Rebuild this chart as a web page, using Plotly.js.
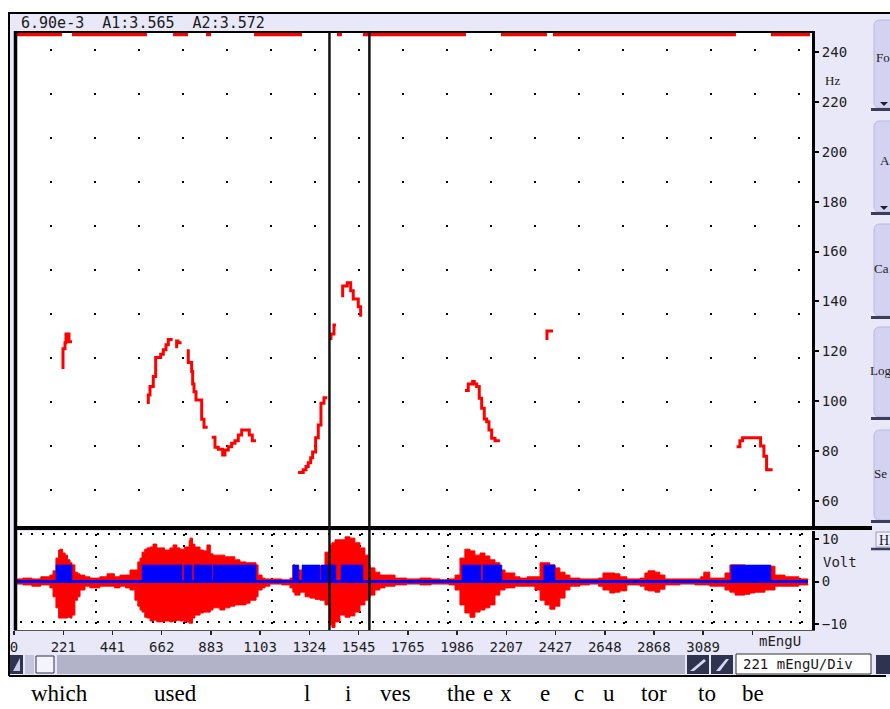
<!DOCTYPE html>
<html><head><meta charset="utf-8">
<script src="https://cdn.plot.ly/plotly-3.0.1.min.js"></script>
<style>html,body{margin:0;padding:0;background:#fff;overflow:hidden}#chart{width:890px;height:709px}</style>
</head><body><div id="chart"></div>
<script>
// ---------------- data ----------------
const xTickVals = [0,221,441,662,883,1103,1324,1545,1765,1986,2207,2427,2648,2868,3089,3310];
const xTickText = ['0','221','441','662','883','1103','1324','1545','1765','1986','2207','2427','2648','2868','3089',''];
const hzTickVals = [60,80,100,120,140,160,180,200,220,240];
const voltTickVals = [-10,0,10];

// pitch track (mEngU, Hz); null = gap
const pitchTime = [219.6,219.6,228.6,228.6,233,233,246.5,246.5,260,null,
 601.9,601.9,609.6,609.6,624.3,624.3,635.1,635.1,657.5,657.5,669.2,669.2,681.3,681.3,691.6,691.6,711.3,null,
 729,729,735,735,751,null,
 781.2,781.2,796.4,796.4,800.9,800.9,806.8,806.8,815.7,815.7,841.3,841.3,851.6,851.6,868.2,null,
 886.1,900.9,900.9,915.7,915.7,935.4,935.4,945.7,945.7,960.5,960.5,975.7,975.7,990.5,990.5,1005.3,1005.3,1020.6,1020.6,1054.6,1054.6,1068.1,1068.1,1084.6,null,
 1273,1296.6,1296.6,1308.7,1308.7,1319,1319,1329.8,1329.8,1338.7,1338.7,1352.2,1352.2,1363.9,1363.9,1376,1376,1389.4,1389.4,1404.2,null,
 1420.8,1420.8,1434.2,1434.2,1443.2,null,
 1473.2,1473.2,1493.9,1493.9,1509.1,1509.1,1520.7,1520.7,1543.2,1543.2,1553.9,1553.9,null,
 2021.4,2036.2,2036.2,2055.9,2055.9,2063.1,2063.1,2073.8,2073.8,2085.5,2085.5,2096.3,2096.3,2107.9,2107.9,2118.7,2118.7,2129,2129,2141.1,2141.1,2155.8,2155.8,2178,null,
 2389,2389,2416,null,
 3239,3253.8,3253.8,3265.9,3265.9,3346.6,3346.6,3361.4,3361.4,3373.5,3373.5,3400.4];
const pitchHz = [112.9,121.0,121.0,123.4,123.4,127.0,127.0,123.8,123.8,null,
 98.9,102.5,102.5,105.9,105.9,109.9,109.9,117.5,117.5,118.8,118.8,120.6,120.6,122.6,122.6,124.8,124.8,null,
 121.2,124.2,124.2,123.4,123.4,null,
 120.8,115.5,115.5,111.9,111.9,106.9,106.9,103.8,103.8,100.5,100.5,92.8,92.8,89.6,89.6,null,
 85.6,85.6,81.6,81.6,80.8,80.8,78.5,78.5,80.5,80.5,81.8,81.8,83.2,83.2,84.2,84.2,86.5,86.5,88.5,88.5,86.5,86.5,84.2,84.2,null,
 71.4,71.4,72.5,72.5,73.8,73.8,75.4,75.4,77.4,77.4,79.7,79.7,85.4,85.4,90.5,90.5,99.2,99.2,101.4,101.4,null,
 124.6,127,127,130.6,130.6,null,
 141.7,146.2,146.2,147.5,147.5,144.3,144.3,141.0,141.0,137.9,137.9,133.9,null,
 104.3,104.3,106.9,106.9,107.9,107.9,106.9,106.9,105.9,105.9,101.2,101.2,97.2,97.2,92.9,92.9,91.8,91.8,88.5,88.5,85.2,85.2,84.2,84.2,null,
 124.6,128.2,128.2,null,
 81.8,81.8,84.2,84.2,85.4,85.4,82.1,82.1,78.0,78.0,72.5,72.5];

// out-of-range (unvoiced) marks drawn at the top edge
const unvoicedStart = [0,260,713,861,1076,1448,1564,2183,2416,3393];
const unvoicedEnd   = [215,596,780,883,1291,1470,2026,2389,3236,3568];
const unvoicedLevel = 247;

// waveform envelope (mEngU, Volt)
const envTime = [0,40,80,120,161,175,188,200,206,218,229,240,251,260,273,285,296,318,340,385,
 417,450,475,500,520,529,542,555,565,574,586,596,610,623,640,654,675,699,713,730,
 744,765,785,789,800,811,834,850,865,880,892,923,945,968,990,1013,1040,1058,1085,1094,
 1112,1125,1147,1200,1237,1250,1259,1282,1305,1327,1350,1371,1394,1416,1425,1439,1461,1484,1506,1528,
 1551,1573,1587,1596,1618,1640,1663,1708,1760,1820,1870,1909,1950,1977,1999,2021,2044,2066,2089,2111,
 2133,2156,2178,2201,2245,2268,2300,2335,2358,2380,2402,2425,2447,2470,2492,2537,2580,2620,2640,2671,
 2693,2716,2747,2780,2806,2828,2842,2873,2895,2918,2985,3052,3078,3092,3119,3164,3187,3209,3232,3276,
 3299,3321,3344,3366,3388,3411,3456,3500,3518,3559];
const envTop = [0.6,0.8,0.6,1.1,1.5,2.5,5.5,7.4,7.6,6.7,6.2,5.1,4.4,3.9,2.2,1.8,1.5,1.1,0.8,1.1,
 1.8,1.1,1.5,1.5,2.7,2.7,2.7,4.6,5.5,6.9,7.6,7.9,8.1,8.8,7.9,7.9,7.4,7.9,8.6,7.9,
 7.6,8.1,9.6,10.2,8.8,8.1,7.4,7.2,8.6,6.5,6.2,6.2,5.8,5.8,5.1,4.6,4.4,4.4,3.9,1.5,
 0.8,0.6,0.6,0.4,0.8,3.9,2.7,2.7,3.2,3.2,3.6,3.6,6.9,8.6,9.1,9.8,9.8,10.5,10.2,9.1,
 7.9,6.2,3.9,3.2,2.2,1.5,1.5,0.8,0.6,0.8,0.6,0.4,0.6,1.5,5.5,7.6,7.2,6.2,6.7,6.0,
 5.1,4.4,2.7,2.0,1.1,0.8,1.1,1.1,4.4,4.4,3.9,3.2,2.2,1.5,0.8,0.6,0.6,0.8,2.0,2.0,
 1.8,1.1,0.6,0.6,0.8,2.0,2.5,2.2,1.5,0.6,0.6,0.6,1.1,2.2,0.8,0.8,2.0,3.9,3.9,3.6,
 3.2,3.6,3.6,3.6,3.6,1.5,1.1,1.1,0.6,0.4];
const envBottom = [-0.6,-0.8,-1.1,-0.8,-1.5,-3.6,-6.2,-8.6,-8.6,-8.6,-8.6,-8.4,-8.6,-7.9,-4.4,-3.6,-2.0,-1.1,-1.5,-1.1,
 -1.1,-1.5,-1.1,-1.5,-2.0,-2.0,-4.4,-5.8,-6.7,-7.2,-8.4,-8.6,-9.3,-9.1,-9.5,-9.5,-9.3,-9.5,-9.3,-9.1,
 -9.3,-9.5,-9.8,-9.8,-8.6,-7.9,-7.4,-7.2,-7.2,-6.7,-6.2,-6.7,-6.2,-5.8,-5.5,-5.5,-5.1,-4.4,-3.6,-2.0,
 -1.5,-1.1,-0.6,-0.8,-1.5,-2.5,-3.2,-2.5,-3.6,-3.9,-4.2,-4.4,-5.5,-10.2,-10.8,-9.5,-7.9,-8.4,-8.1,-7.2,
 -5.5,-4.4,-3.6,-3.2,-2.0,-1.5,-1.1,-0.8,-0.6,-0.8,-0.6,-0.6,-0.8,-2.0,-5.5,-7.4,-8.4,-7.2,-6.7,-6.2,
 -5.5,-3.2,-2.0,-1.5,-1.1,-1.1,-1.1,-2.0,-4.4,-5.5,-6.5,-5.8,-3.9,-2.0,-1.1,-0.8,-0.6,-1.1,-2.0,-2.7,
 -2.5,-2.2,-0.8,-0.8,-1.1,-2.0,-2.2,-2.5,-1.8,-0.8,-0.6,-0.8,-0.8,-0.8,-1.1,-1.1,-2.0,-2.5,-3.2,-3.0,
 -2.7,-2.5,-2.5,-2.0,-2.0,-1.1,-1.1,-1.1,-0.8,-0.6];

// voiced segments (blue blocks)
const voicedStart = [188,574,762,807,892,1250,1291,1376,1466,2008,2102,2375,3214];
const voicedEnd   = [260,753,798,887,1085,1277,1371,1443,1564,2093,2187,2425,3393];
const voicedLevel = 3.9;

const cursorTime = [1414,1593];
const headerText = '6.90e-3\u00a0\u00a0A1:3.565\u00a0\u00a0A2:3.572';
const words = ['which','used','l','i','ves','the','e','x','e','c','u','tor','to','be'];

// ---------------- layout helpers ----------------
const W = 890, H = 709;
const px = x => x / W, py = y => 1 - y / H;
const wordX = [59,175,307,348,395,461,488,506,545,579,609,654,707,753];
const MONO = 'DejaVu Sans Mono', SERIF = 'Liberation Serif';
const LAV = '#e8e8f8';

function rect(x0, y0, x1, y1, fill, lineColor, layer) {
  return {type:'rect', xref:'paper', yref:'paper', x0:px(x0), x1:px(x1), y0:py(y1), y1:py(y0),
    fillcolor: fill, line:{width: lineColor ? 1 : 0, color: lineColor || fill}, layer: layer || 'above'};
}
function seg(x0, y0, x1, y1, w, color, dash, layer) {
  return {type:'line', xref:'paper', yref:'paper', x0:px(x0), x1:px(x1), y0:py(y0), y1:py(y1),
    line:{width:w, color:color, dash: dash || 'solid'}, layer: layer || 'above'};
}
function pathShape(pts, fill, lineColor) {
  let d = '';
  pts.forEach((p, i) => {
    if (p[0] === 'Q') d += ' Q' + px(p[1]) + ',' + py(p[2]) + ' ' + px(p[3]) + ',' + py(p[4]);
    else d += (i === 0 ? 'M' : ' L') + px(p[0]) + ',' + py(p[1]);
  });
  d += ' Z';
  return {type:'path', xref:'paper', yref:'paper', path:d, fillcolor:fill,
    line:{width: lineColor ? 1 : 0, color: lineColor || fill}, layer:'above'};
}
function roundBtn(t, b) {
  const l = 874, r = 893, k = 6;
  return pathShape([[l, t + k], ['Q', l, t, l + k, t], [r, t], [r, b], [l + k, b], ['Q', l, b, l, b - k]], '#d3d3f1', '#b8b8dc');
}
function label(text, x, y, font, anchor) {
  return {xref:'paper', yref:'paper', x:px(x), y:py(y), text:text, showarrow:false,
    xanchor: anchor || 'center', yanchor:'middle', font:font, borderpad:0};
}

// ---------------- traces ----------------
const pitchTrace = {type:'scatter', mode:'lines', x:pitchTime, y:pitchHz, xaxis:'x', yaxis:'y',
  line:{color:'#ff0000', width:3}, hoverinfo:'skip', connectgaps:false};

const topX = [], topY = [];
unvoicedStart.forEach((s, i) => { topX.push(s, unvoicedEnd[i], null); topY.push(unvoicedLevel, unvoicedLevel, null); });
const topTrace = {type:'scatter', mode:'lines', x:topX, y:topY, xaxis:'x', yaxis:'y',
  line:{color:'#ff0000', width:3.5}, hoverinfo:'skip'};

const envLow = {type:'scatter', mode:'lines', x:envTime, y:envBottom, xaxis:'x2', yaxis:'y2',
  line:{color:'#ff0000', width:1, shape:'hv'}, hoverinfo:'skip'};
const envHigh = {type:'scatter', mode:'lines', x:envTime, y:envTop, xaxis:'x2', yaxis:'y2',
  line:{color:'#ff0000', width:1, shape:'hv'}, fill:'tonexty', fillcolor:'#ff0000', hoverinfo:'skip'};

const vx = [], vy = [];
voicedStart.forEach((s, i) => {
  const e = voicedEnd[i];
  vx.push(s, s, e, e, s, null);
  vy.push(0, voicedLevel, voicedLevel, 0, 0, null);
});
const voicedBlocks = {type:'scatter', mode:'lines', x:vx, y:vy, xaxis:'x2', yaxis:'y2',
  fill:'toself', fillcolor:'#0000ff', line:{color:'#0000ff', width:0.5}, hoverinfo:'skip'};

const baseline = {type:'scatter', mode:'lines', x:[envTime[0], envTime[envTime.length - 1]], y:[0, 0],
  xaxis:'x2', yaxis:'y2', line:{color:'#0000ff', width:3}, hoverinfo:'skip'};

const gridA = {type:'scatter', x:[], y:[], xaxis:'x3', yaxis:'y', hoverinfo:'skip'};
const gridB = {type:'scatter', x:[], y:[], xaxis:'x4', yaxis:'y2', hoverinfo:'skip'};

// ---------------- layout ----------------
const xDom = [px(14), px(812)];
const tickFont = {family:MONO, size:14, color:'#1e1e1e'};
const layout = {
  width:W, height:H, margin:{l:0, r:0, t:0, b:0, pad:0},
  paper_bgcolor:LAV, plot_bgcolor:'#ffffff', showlegend:false,
  xaxis:{domain:xDom, range:[0, 3577], anchor:'y', showticklabels:false, ticks:'', showgrid:false,
    zeroline:false, showline:false, fixedrange:true},
  yaxis:{domain:[py(527), py(32)], range:[49.6, 248], anchor:'x', side:'right', tickmode:'array',
    tickvals:hzTickVals, ticks:'outside', ticklen:4, tickwidth:2, tickcolor:'#000', showline:true,
    linewidth:3, linecolor:'#000', showgrid:false, zeroline:false, tickfont:tickFont, fixedrange:true},
  xaxis2:{domain:xDom, range:[0, 3577], anchor:'y2', tickmode:'array', tickvals:xTickVals, ticktext:xTickText,
    ticks:'outside', ticklen:4, tickwidth:1.5, tickcolor:'#222', showline:true, linewidth:1, linecolor:'#555',
    showgrid:false, zeroline:false, tickfont:tickFont, fixedrange:true},
  yaxis2:{domain:[py(630), py(531)], range:[-11.41, 11.88], anchor:'x2', side:'right', tickmode:'array',
    tickvals:voltTickVals, ticks:'outside', ticklen:4, tickwidth:2, tickcolor:'#000', showline:true,
    linewidth:3, linecolor:'#000', showgrid:false, zeroline:false, tickfont:tickFont, fixedrange:true},
  // overlay axes used only to draw the dotted grid lattices (pixel-unit ranges)
  xaxis3:{overlaying:'x', anchor:'y', range:[0, 798], tickmode:'linear', tick0:37, dtick:44,
    showgrid:true, gridcolor:'#000', gridwidth:2, griddash:'0px,17px,2px,25px',
    showticklabels:false, ticks:'', showline:false, zeroline:false, fixedrange:true},
  xaxis4:{overlaying:'x2', anchor:'y2', range:[0, 798], tickmode:'linear', tick0:82, dtick:88,
    showgrid:true, gridcolor:'#000', gridwidth:2, griddash:'0px,3px,2px,6px',
    showticklabels:false, ticks:'', showline:false, zeroline:false, fixedrange:true},
  shapes:[], annotations:[]
};

const S = layout.shapes, A = layout.annotations;
// white outer margins
S.push(rect(0, 0, 8, 709, '#ffffff', null, 'below'));
S.push(rect(0, 0, 890, 12, '#ffffff', null, 'below'));
S.push(rect(0, 677, 890, 709, '#ffffff', null, 'below'));
// dotted rows in waveform panel
S.push(seg(20, 534, 810, 534, 2, '#000', '2px,9px', 'below'));
S.push(seg(20, 622, 810, 622, 2, '#000', '2px,9px', 'below'));
// frame lines
S.push(seg(8, 13, 890, 13, 2, '#000'));
S.push(seg(9, 13, 9, 676, 2, '#000'));
S.push(seg(14, 32, 815, 32, 2, '#000'));
S.push(seg(15.5, 31, 15.5, 630, 3.5, '#000'));
S.push(seg(14, 528, 872, 528, 4, '#000'));
cursorTime.forEach(t => S.push({type:'line', xref:'x', yref:'paper', x0:t, x1:t, y0:py(630), y1:py(32),
  line:{width:2.5, color:'#111'}, layer:'above'}));
// right-hand buttons
[[20, 108], [121, 212], [224, 316], [327, 417], [430, 520]].forEach(b => {
  S.push(roundBtn(b[0], b[1]));
  S.push(seg(871, b[1] + 1.5, 890, b[1] + 1.5, 3, '#3c3c5c'));
});
S.push(pathShape([[880, 102], [888, 102], [884, 106]], '#202030'));
S.push(pathShape([[880, 206], [888, 206], [884, 210]], '#202030'));
S.push(rect(876, 532, 892, 547, '#eeeeff', '#9a9ab8'));
S.push(seg(871, 549, 890, 549, 2.5, '#3c3c5c'));
// bottom scroll bar
S.push(rect(10, 655, 23, 674, '#2e3350'));
S.push(pathShape([[20, 658], [20, 671], [13, 671]], '#c8c8e8'));
S.push(rect(25, 655, 34, 674, '#c4c4dc'));
S.push(rect(36, 656, 54, 673, '#f4f4ff', '#303048'));
S.push(rect(57, 655, 685, 674, '#b2b2c8'));
S.push(rect(687, 655, 709, 674, '#2e3350'));
S.push(pathShape([[690, 671], [704, 659], [706, 661], [694, 671]], '#d8d8f0'));
S.push(rect(711, 655, 733, 674, '#2e3350'));
S.push(pathShape([[716, 671], [726, 659], [729, 659], [720, 671]], '#d8d8f0'));
S.push(rect(736, 654, 871, 674, '#ffffff', '#303030'));
S.push(rect(876, 655, 892, 674, '#2e3350'));
S.push(seg(9, 676, 886, 676, 2, '#000'));

// text
A.push(label(headerText, 20, 23, {family:MONO, size:15, color:'#1a1a1a'}, 'left'));
A.push(label('Hz', 832, 80, {family:SERIF, size:13, color:'#1a1a1a'}));
A.push(label('Volt', 840, 562, {family:MONO, size:14, color:'#1e1e1e'}));
A.push(label('mEngU', 780, 641, {family:MONO, size:14, color:'#1e1e1e'}));
A.push(label('221 mEngU/Div', 742, 664, {family:MONO, size:14, color:'#1a1a1a'}, 'left'));
[['Fo', 875, 58], ['A', 879, 160], ['Ca', 873, 268], ['Log', 869, 370], ['Se', 873, 473]].forEach(b =>
  A.push(label(b[0], b[1], b[2], {family:SERIF, size:13, color:'#1a1a1a'}, 'left')));
A.push(label('H', 878, 540, {family:SERIF, size:14, color:'#1a1a1a'}, 'left'));
words.forEach((w, i) => A.push(label(w, wordX[i], 693, {family:SERIF, size:23, color:'#000'})));

Plotly.newPlot('chart', [gridA, gridB, envLow, envHigh, voicedBlocks, baseline, topTrace, pitchTrace], layout,
  {staticPlot:true, displayModeBar:false});
</script>
</body></html>
